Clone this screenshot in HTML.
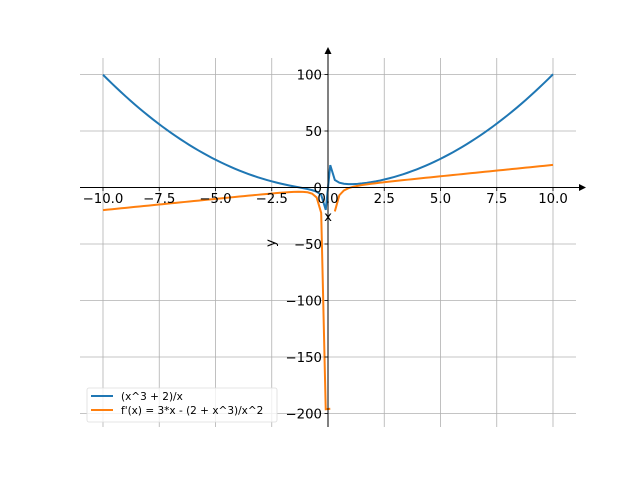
<!DOCTYPE html>
<html><head><meta charset="utf-8"><style>body{margin:0;background:#fff}svg{display:block}text{font-family:"DejaVu Sans","Liberation Sans",sans-serif}</style></head>
<body>
<svg id="s" width="640" height="480" xmlns="http://www.w3.org/2000/svg">
<defs><clipPath id="c"><rect x="80" y="58" width="496" height="369"/></clipPath></defs>
<g id="grid" stroke="#b0b0b0" stroke-width="0.8"></g>
<g clip-path="url(#c)">
<polyline id="p1" fill="none" stroke="#1f77b4" stroke-width="2"/>
<polyline id="p2" fill="none" stroke="#ff7f0e" stroke-width="2"/>
<polyline id="p3" fill="none" stroke="#ff7f0e" stroke-width="2"/>
</g>
<line x1="80" y1="187.5" x2="580" y2="187.5" stroke="#000" stroke-width="1"/>
<polygon points="586,187.5 579,184 579,191" fill="#000"/>
<line x1="328" y1="427" x2="328" y2="54" stroke="#000" stroke-width="1"/>
<polygon points="328,47 324.5,54 331.5,54" fill="#000"/>
<g id="ticks" stroke="#000" stroke-width="0.8"></g>
<g id="lbl" font-size="13.3" fill="#000"></g>
<text x="328" y="221" font-size="13.3" text-anchor="middle">x</text>
<text x="275" y="243" font-size="13.3" text-anchor="middle" transform="rotate(-90 275 243)">y</text>
<rect x="87" y="388" width="190" height="34" rx="2" fill="#fff" fill-opacity="0.8" stroke="#ddd" stroke-width="0.8"/>
<line x1="91" y1="396" x2="113" y2="396" stroke="#1f77b4" stroke-width="2"/>
<line x1="91" y1="410" x2="113" y2="410" stroke="#ff7f0e" stroke-width="2"/>
<text x="121" y="400" font-size="10.5">(x^3 + 2)/x</text>
<text x="121" y="414" font-size="10.5">f'(x) = 3*x - (2 + x^3)/x^2</text>
</svg>
<script>
var X=function(x){return 328+22.5*x},Y=function(y){return 187.5-1.13*y};
var a=[],b=[],c=[];
for(var i=0;i<100;i++){var x=-10+20*i/99;a.push(X(x).toFixed(2)+","+Y((x*x*x+2)/x).toFixed(2));var p=X(x).toFixed(2)+","+Y(3*x-(2+x*x*x)/(x*x)).toFixed(2);if(i<=50)b.push(p);else c.push(p);}
document.getElementById("p1").setAttribute("points",a.join(" "));
document.getElementById("p2").setAttribute("points",b.join(" "));
document.getElementById("p3").setAttribute("points",c.join(" "));
var g="",t="",l="";
for(var v=-10;v<=10;v+=2.5){var px=X(v);g+='<line x1="'+px+'" y1="58" x2="'+px+'" y2="427"/>';t+='<line x1="'+px+'" y1="187.5" x2="'+px+'" y2="191"/>';l+='<text x="'+px+'" y="203" text-anchor="middle">'+(v<0?'\u2212':'')+Math.abs(v).toFixed(1)+'</text>';}
for(var w=-200;w<=100;w+=50){var py=Y(w);g+='<line x1="80" y1="'+py+'" x2="576" y2="'+py+'"/>';t+='<line x1="324.5" y1="'+py+'" x2="328" y2="'+py+'"/>';l+='<text x="322" y="'+(py+5)+'" text-anchor="end">'+(w<0?'\u2212':'')+Math.abs(w)+'</text>';}
document.getElementById("grid").innerHTML=g;document.getElementById("ticks").innerHTML=t;document.getElementById("lbl").innerHTML=l;
</script>
</body></html>
